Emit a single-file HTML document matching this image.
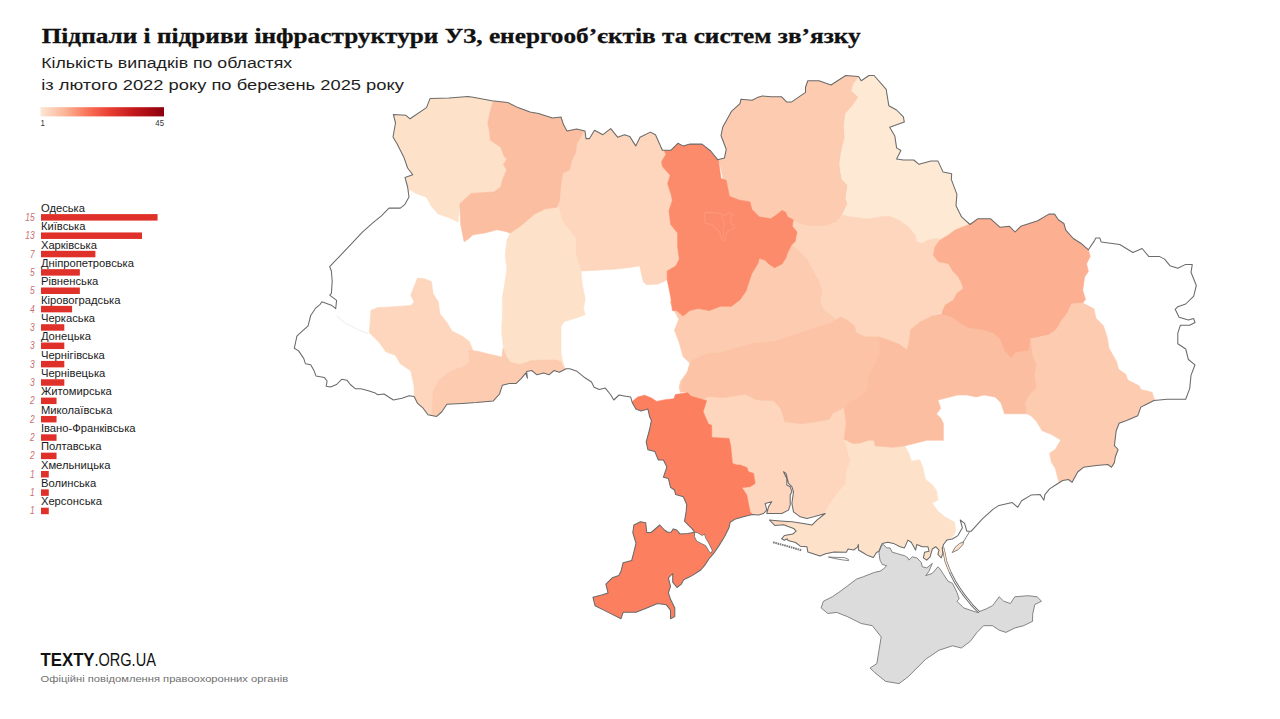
<!DOCTYPE html>
<html><head><meta charset="utf-8"><style>
html,body{margin:0;padding:0;background:#fff;}
body{width:1280px;height:719px;overflow:hidden;}
svg{display:block;}
.title{font-family:"Liberation Serif",serif;font-weight:bold;font-size:22px;fill:#111;stroke:#111;stroke-width:0.3px;}
.sub{font-family:"Liberation Sans",sans-serif;font-size:15.4px;fill:#1e1e1e;}
.lbl{font-family:"Liberation Sans",sans-serif;font-size:10.3px;fill:#1a1a1a;}
.num{font-family:"Liberation Sans",sans-serif;font-style:italic;font-size:10.5px;fill:#c87070;}
.leg{font-family:"Liberation Sans",sans-serif;font-size:9.2px;fill:#333;}
.logo{font-family:"Liberation Sans",sans-serif;font-size:18px;fill:#111;}
.src{font-family:"Liberation Sans",sans-serif;font-size:9.3px;fill:#707070;}
</style></head><body>
<svg width="1280" height="719" viewBox="0 0 1280 719">
<defs>
<clipPath id="ua"><polygon points="393.4,114.5 405.9,115.3 410,118.8 426.5,107.6 430,98.6 449,98.1 468,96.4 473,97.2 492,100.7 507.6,102.4 518,107.6 530,112 538.6,113.6 552.4,118 561,117 563.6,124.8 567,131 576.6,129 585,131 586,138.6 589.5,138.6 594.5,130.3 602.9,134.7 610.7,128.6 617.6,137.2 624.5,134.7 629.7,136.4 635.7,145.9 640,137.2 650.3,132.1 655.5,134.7 662.4,150.2 671,150.2 677.9,143.3 683.1,145.9 690,144.1 702,144.1 710.7,151 717.6,159.7 724.5,157.9 726.2,149.3 721,135.5 722.8,126.9 731.4,111.4 740,103.6 740.9,99.3 752.1,100.2 757.2,97.6 762.4,95.9 771,96.7 781.4,96.7 786.6,101.9 791.7,101.9 805.5,92.4 805.5,87.2 807.8,80.7 819,80.7 831,85 845.7,75.5 858.6,76.4 861.2,80.7 869,75.5 874.1,75.5 886.2,89.3 888.8,105.7 896.6,110 903.4,116.9 904.3,122.1 889.7,127.2 894.8,135.9 896.6,147.9 900.9,150.5 896.6,159.1 903.4,160 913.8,160 919,164.3 931,160.9 937.9,160.9 943.1,172.1 951.7,173.8 951.3,179.4 956.9,194.4 956,205.7 961.6,216.9 970,224.5 977.6,218.8 990.7,218.8 1000.1,227.3 1009.5,226.3 1015.1,232 1020.8,226.3 1037.7,220.7 1048.9,214.1 1054.6,214.1 1058.3,219.8 1063.9,223.5 1065.8,230.1 1073.3,238.5 1080.8,243.2 1088.4,249.8 1094.5,240.6 1095.9,237.9 1099.8,237.9 1101.1,241.9 1119.7,244.5 1132.9,252.5 1142.1,248.5 1148.7,256.4 1159.3,256.4 1164.6,259.1 1169.9,265.7 1177.8,268.3 1185.7,264.4 1192.3,264.4 1191,272.3 1196.3,285.5 1193.7,296.1 1185.7,304 1177.8,306.7 1175.2,309.3 1179.1,317.2 1188.4,319.9 1193.7,318.6 1195,322.5 1189.7,325.2 1180.4,325.2 1177.8,333.1 1177.8,343.7 1185.7,349 1188.4,359.5 1195,364.8 1191,375.4 1189.7,388.6 1185.7,399.2 1167.2,399.2 1154,400.5 1146.1,404.5 1140.8,407.1 1137.8,415.7 1126.6,420.4 1119.1,423.2 1116.2,430.7 1114.4,445.7 1118.1,449.5 1115.3,457 1114.4,462.6 1111.5,467.3 1107.8,464.5 1096.5,465.4 1083.4,467.3 1077.7,472 1072.1,482.3 1068.4,479.5 1062.7,480.5 1055.2,485.2 1049.6,488.9 1044.9,494.6 1043.9,500.2 1040.2,494.6 1031,495.1 1021.6,500.8 1017.8,507.3 1012.2,502.6 999.1,505.4 993.5,508.9 982.4,518.9 971.3,531.2 966.8,531.2 964.6,523.4 960.2,520 962.4,527.8 957.9,535.6 952.4,539 946.8,540.1 943.5,544.5 942.3,549 942.9,553.4 941.2,557.9 937.9,554.5 939,550.1 935.7,546.7 932.3,549 930.1,556.8 926.8,560.1 923.4,557.9 924.5,552.3 929,551.2 927.9,546.7 922.3,546.7 916.8,544.5 915.6,550.1 911.2,542.3 907.9,540.1 904.5,547.9 900.1,546.7 893.4,543.4 887.8,542.3 882.3,543.4 879.1,550.9 876.3,552.8 873.4,557.5 867.8,555.6 863.1,552.8 858.4,550 858.4,544.4 857.5,547.2 853.7,550 848.1,549.1 846.3,552.3 834.1,551.9 825.6,553.7 820,556.1 807.8,551.9 806.9,546.7 800.3,546.2 795.6,542.5 788.1,540.6 787.2,538.8 784.4,540.2 781.6,538.8 784.4,535.5 792.8,534.1 796.1,531.2 793.7,528.4 783.4,524.7 775,525.6 769.4,520 780.2,520.9 791.9,521.8 803.5,523.5 811.9,525.1 816.9,520.1 825.2,513.5 813.6,516.8 806.9,518.5 800.2,516.8 793.5,511.8 791.9,503.4 793.5,491.8 791.9,486.7 788.5,483.4 786,473.4 783.5,471.7 786.8,478.4 786.8,485.1 790.2,486.7 791.9,491.8 790.2,495.1 790.2,505.1 788.5,510.1 781.8,513.5 773.5,513.5 766.8,513.5 768.5,506.8 771.8,501.8 765.1,503.4 766.8,510.1 763.5,513.5 758.5,515.1 752.3,514.5 743.4,516.7 735.6,518.9 730.1,522.3 729,527.8 724.5,536.7 719,545.6 714.5,552.3 708.9,559 704.5,565.6 700.7,570 692.1,575.6 687.8,577.8 683.5,579.9 681.3,584.2 677,587.5 672.7,582.1 672.7,573.5 668.4,577.8 670.5,586.4 668.4,592.9 670.5,599.3 674.8,608 674.8,616.6 670.5,618.7 670.5,610.1 666.2,604.7 657.6,603.6 646.8,608 636,612.3 623.1,612.3 621,618.7 612.3,614.4 603.7,610.1 595.1,605.8 592.9,597.2 601.6,595 608,592.9 605.9,584.2 612.3,577.8 618.8,575.6 621,571.3 623.1,562.7 631.7,560.5 633.9,551.9 636,543.3 632.8,532.5 633.9,525 640.4,521.7 645.7,522.8 646.8,532.5 651.1,532.5 659.8,525 664.4,530 667.8,532.3 671.1,532.3 673.3,528.9 676.7,530 680,533.9 687.8,533.4 694.5,532.3 692.3,528.9 688.9,525.6 684.5,521.1 686.1,512.2 686.7,504.5 683.4,496.7 675.6,494.4 674.5,490 670.5,487.2 668.4,478.6 663.4,477.2 666.9,466.9 663.4,460 658.3,460 654.8,451.4 647.9,449.7 646.2,441.9 649.7,429 651.4,420.3 649.7,416.9 647.9,409.1 641,410.9 635.9,409.1 632.4,403.1 630.7,397.1 625.5,396.2 619,395 613.8,400 610.5,394.5 605.3,388.1 599.3,389.4 594.1,387.2 591.5,382 585,377.8 577,371.3 569.7,368.8 566.2,368.8 559.3,372.2 554.1,370.5 549,374.8 543.8,373.1 536.9,374.8 531.7,370.5 526.6,371.4 527.4,378.3 525.7,373.1 521.4,378.3 516.2,383.4 509.3,383.4 502.4,385.2 499.5,394 493.4,400.9 476.2,402.6 462.4,403.4 446.9,404.3 441.7,412 436.6,416.4 427.9,414.7 422.8,407.8 417.6,403.4 414.1,396.6 409,395.7 402,398.3 393.4,400 384,394 377.9,394.8 375.3,393.1 367.6,390.5 360.7,388.8 355.5,388.8 350.3,384.5 346.9,380.2 341.7,379.3 336.6,384.5 330.5,387.1 326.2,386.2 327.1,381 324.5,377.6 315.9,375.9 314.1,370.7 310.7,364.7 305.5,363.8 303.8,358.6 298.6,350.9 294.3,348.3 296.9,336.2 300.3,332.8 308.1,325.9 310.7,315.5 315.9,307.8 320.2,304.3 321.9,301.7 331.4,305.2 335.7,308.6 336.6,300.3 329.7,295.2 331.4,293.4 332.2,281.4 331.4,271 329.7,266.7 346.9,248.6 362.4,232.2 372.8,222.8 381.4,215.9 389,208.1 400.3,208.1 404.7,204.7 409,196.9 407.6,187 405,177.4 412.8,174.8 407.6,168 404,157.6 397,143.8 393,137 395.5,123"/></clipPath>
<linearGradient id="lg" x1="0" x2="1" y1="0" y2="0">
<stop offset="0" stop-color="#fde6d4"/>
<stop offset="0.2" stop-color="#fcb497"/>
<stop offset="0.4" stop-color="#f86c52"/>
<stop offset="0.55" stop-color="#ea4236"/>
<stop offset="0.75" stop-color="#c41a1c"/>
<stop offset="0.9" stop-color="#a50a12"/>
<stop offset="1" stop-color="#8a0010"/>
</linearGradient>
</defs>
<text x="41.7" y="42.8" class="title" id="title" textLength="819" lengthAdjust="spacingAndGlyphs">Підпали і підриви інфраструктури УЗ, енергооб’єктів та систем зв’язку</text>
<text x="41.2" y="67.9" class="sub" id="sub1" textLength="251" lengthAdjust="spacingAndGlyphs">Кількість випадків по областях</text>
<text x="41.2" y="89.6" class="sub" id="sub2" textLength="362.7" lengthAdjust="spacingAndGlyphs">із лютого 2022 року по березень 2025 року</text>
<rect x="40.5" y="107.2" width="123.5" height="9.2" fill="url(#lg)"/>
<text transform="translate(40.6,125.7) scale(0.85,1)" class="leg">1</text>
<text transform="translate(164,125.7) scale(0.85,1)" class="leg" text-anchor="end">45</text>
<rect x="41" y="214.10" width="116.55" height="6.5" fill="#e0302a"/><text transform="translate(40.9,211.80) scale(1.09,1)" class="lbl">Одеська</text><text transform="translate(34.7,220.80) scale(0.8,1)" class="num" text-anchor="end">15</text><rect x="41" y="232.45" width="101.01" height="6.5" fill="#e0302a"/><text transform="translate(40.9,230.15) scale(1.09,1)" class="lbl">Київська</text><text transform="translate(34.7,239.15) scale(0.8,1)" class="num" text-anchor="end">13</text><rect x="41" y="250.80" width="54.39" height="6.5" fill="#e0302a"/><text transform="translate(40.9,248.50) scale(1.09,1)" class="lbl">Харківська</text><text transform="translate(34.7,257.50) scale(0.8,1)" class="num" text-anchor="end">7</text><rect x="41" y="269.15" width="38.85" height="6.5" fill="#e0302a"/><text transform="translate(40.9,266.85) scale(1.09,1)" class="lbl">Дніпропетровська</text><text transform="translate(34.7,275.85) scale(0.8,1)" class="num" text-anchor="end">5</text><rect x="41" y="287.50" width="38.85" height="6.5" fill="#e0302a"/><text transform="translate(40.9,285.20) scale(1.09,1)" class="lbl">Рівненська</text><text transform="translate(34.7,294.20) scale(0.8,1)" class="num" text-anchor="end">5</text><rect x="41" y="305.85" width="31.08" height="6.5" fill="#e0302a"/><text transform="translate(40.9,303.55) scale(1.09,1)" class="lbl">Кіровоградська</text><text transform="translate(34.7,312.55) scale(0.8,1)" class="num" text-anchor="end">4</text><rect x="41" y="324.20" width="23.31" height="6.5" fill="#e0302a"/><text transform="translate(40.9,321.90) scale(1.09,1)" class="lbl">Черкаська</text><text transform="translate(34.7,330.90) scale(0.8,1)" class="num" text-anchor="end">3</text><rect x="41" y="342.55" width="23.31" height="6.5" fill="#e0302a"/><text transform="translate(40.9,340.25) scale(1.09,1)" class="lbl">Донецька</text><text transform="translate(34.7,349.25) scale(0.8,1)" class="num" text-anchor="end">3</text><rect x="41" y="360.90" width="23.31" height="6.5" fill="#e0302a"/><text transform="translate(40.9,358.60) scale(1.09,1)" class="lbl">Чернігівська</text><text transform="translate(34.7,367.60) scale(0.8,1)" class="num" text-anchor="end">3</text><rect x="41" y="379.25" width="23.31" height="6.5" fill="#e0302a"/><text transform="translate(40.9,376.95) scale(1.09,1)" class="lbl">Чернівецька</text><text transform="translate(34.7,385.95) scale(0.8,1)" class="num" text-anchor="end">3</text><rect x="41" y="397.60" width="15.54" height="6.5" fill="#e0302a"/><text transform="translate(40.9,395.30) scale(1.09,1)" class="lbl">Житомирська</text><text transform="translate(34.7,404.30) scale(0.8,1)" class="num" text-anchor="end">2</text><rect x="41" y="415.95" width="15.54" height="6.5" fill="#e0302a"/><text transform="translate(40.9,413.65) scale(1.09,1)" class="lbl">Миколаївська</text><text transform="translate(34.7,422.65) scale(0.8,1)" class="num" text-anchor="end">2</text><rect x="41" y="434.30" width="15.54" height="6.5" fill="#e0302a"/><text transform="translate(40.9,432.00) scale(1.09,1)" class="lbl">Івано-Франківська</text><text transform="translate(34.7,441.00) scale(0.8,1)" class="num" text-anchor="end">2</text><rect x="41" y="452.65" width="15.54" height="6.5" fill="#e0302a"/><text transform="translate(40.9,450.35) scale(1.09,1)" class="lbl">Полтавська</text><text transform="translate(34.7,459.35) scale(0.8,1)" class="num" text-anchor="end">2</text><rect x="41" y="471.00" width="7.77" height="6.5" fill="#e0302a"/><text transform="translate(40.9,468.70) scale(1.09,1)" class="lbl">Хмельницька</text><text transform="translate(34.7,477.70) scale(0.8,1)" class="num" text-anchor="end">1</text><rect x="41" y="489.35" width="7.77" height="6.5" fill="#e0302a"/><text transform="translate(40.9,487.05) scale(1.09,1)" class="lbl">Волинська</text><text transform="translate(34.7,496.05) scale(0.8,1)" class="num" text-anchor="end">1</text><rect x="41" y="507.70" width="7.77" height="6.5" fill="#e0302a"/><text transform="translate(40.9,505.40) scale(1.09,1)" class="lbl">Херсонська</text><text transform="translate(34.7,514.40) scale(0.8,1)" class="num" text-anchor="end">1</text>
<g clip-path="url(#ua)">
<polygon points="393.4,114.5 405.9,115.3 410,118.8 426.5,107.6 430,98.6 449,98.1 468,96.4 473,97.2 492,100.7 507.6,102.4 518,107.6 530,112 538.6,113.6 552.4,118 561,117 563.6,124.8 567,131 576.6,129 585,131 586,138.6 589.5,138.6 594.5,130.3 602.9,134.7 610.7,128.6 617.6,137.2 624.5,134.7 629.7,136.4 635.7,145.9 640,137.2 650.3,132.1 655.5,134.7 662.4,150.2 671,150.2 677.9,143.3 683.1,145.9 690,144.1 702,144.1 710.7,151 717.6,159.7 724.5,157.9 726.2,149.3 721,135.5 722.8,126.9 731.4,111.4 740,103.6 740.9,99.3 752.1,100.2 757.2,97.6 762.4,95.9 771,96.7 781.4,96.7 786.6,101.9 791.7,101.9 805.5,92.4 805.5,87.2 807.8,80.7 819,80.7 831,85 845.7,75.5 858.6,76.4 861.2,80.7 869,75.5 874.1,75.5 886.2,89.3 888.8,105.7 896.6,110 903.4,116.9 904.3,122.1 889.7,127.2 894.8,135.9 896.6,147.9 900.9,150.5 896.6,159.1 903.4,160 913.8,160 919,164.3 931,160.9 937.9,160.9 943.1,172.1 951.7,173.8 951.3,179.4 956.9,194.4 956,205.7 961.6,216.9 970,224.5 977.6,218.8 990.7,218.8 1000.1,227.3 1009.5,226.3 1015.1,232 1020.8,226.3 1037.7,220.7 1048.9,214.1 1054.6,214.1 1058.3,219.8 1063.9,223.5 1065.8,230.1 1073.3,238.5 1080.8,243.2 1088.4,249.8 1094.5,240.6 1095.9,237.9 1099.8,237.9 1101.1,241.9 1119.7,244.5 1132.9,252.5 1142.1,248.5 1148.7,256.4 1159.3,256.4 1164.6,259.1 1169.9,265.7 1177.8,268.3 1185.7,264.4 1192.3,264.4 1191,272.3 1196.3,285.5 1193.7,296.1 1185.7,304 1177.8,306.7 1175.2,309.3 1179.1,317.2 1188.4,319.9 1193.7,318.6 1195,322.5 1189.7,325.2 1180.4,325.2 1177.8,333.1 1177.8,343.7 1185.7,349 1188.4,359.5 1195,364.8 1191,375.4 1189.7,388.6 1185.7,399.2 1167.2,399.2 1154,400.5 1146.1,404.5 1140.8,407.1 1137.8,415.7 1126.6,420.4 1119.1,423.2 1116.2,430.7 1114.4,445.7 1118.1,449.5 1115.3,457 1114.4,462.6 1111.5,467.3 1107.8,464.5 1096.5,465.4 1083.4,467.3 1077.7,472 1072.1,482.3 1068.4,479.5 1062.7,480.5 1055.2,485.2 1049.6,488.9 1044.9,494.6 1043.9,500.2 1040.2,494.6 1031,495.1 1021.6,500.8 1017.8,507.3 1012.2,502.6 999.1,505.4 993.5,508.9 982.4,518.9 971.3,531.2 966.8,531.2 964.6,523.4 960.2,520 962.4,527.8 957.9,535.6 952.4,539 946.8,540.1 943.5,544.5 942.3,549 942.9,553.4 941.2,557.9 937.9,554.5 939,550.1 935.7,546.7 932.3,549 930.1,556.8 926.8,560.1 923.4,557.9 924.5,552.3 929,551.2 927.9,546.7 922.3,546.7 916.8,544.5 915.6,550.1 911.2,542.3 907.9,540.1 904.5,547.9 900.1,546.7 893.4,543.4 887.8,542.3 882.3,543.4 879.1,550.9 876.3,552.8 873.4,557.5 867.8,555.6 863.1,552.8 858.4,550 858.4,544.4 857.5,547.2 853.7,550 848.1,549.1 846.3,552.3 834.1,551.9 825.6,553.7 820,556.1 807.8,551.9 806.9,546.7 800.3,546.2 795.6,542.5 788.1,540.6 787.2,538.8 784.4,540.2 781.6,538.8 784.4,535.5 792.8,534.1 796.1,531.2 793.7,528.4 783.4,524.7 775,525.6 769.4,520 780.2,520.9 791.9,521.8 803.5,523.5 811.9,525.1 816.9,520.1 825.2,513.5 813.6,516.8 806.9,518.5 800.2,516.8 793.5,511.8 791.9,503.4 793.5,491.8 791.9,486.7 788.5,483.4 786,473.4 783.5,471.7 786.8,478.4 786.8,485.1 790.2,486.7 791.9,491.8 790.2,495.1 790.2,505.1 788.5,510.1 781.8,513.5 773.5,513.5 766.8,513.5 768.5,506.8 771.8,501.8 765.1,503.4 766.8,510.1 763.5,513.5 758.5,515.1 752.3,514.5 743.4,516.7 735.6,518.9 730.1,522.3 729,527.8 724.5,536.7 719,545.6 714.5,552.3 708.9,559 704.5,565.6 700.7,570 692.1,575.6 687.8,577.8 683.5,579.9 681.3,584.2 677,587.5 672.7,582.1 672.7,573.5 668.4,577.8 670.5,586.4 668.4,592.9 670.5,599.3 674.8,608 674.8,616.6 670.5,618.7 670.5,610.1 666.2,604.7 657.6,603.6 646.8,608 636,612.3 623.1,612.3 621,618.7 612.3,614.4 603.7,610.1 595.1,605.8 592.9,597.2 601.6,595 608,592.9 605.9,584.2 612.3,577.8 618.8,575.6 621,571.3 623.1,562.7 631.7,560.5 633.9,551.9 636,543.3 632.8,532.5 633.9,525 640.4,521.7 645.7,522.8 646.8,532.5 651.1,532.5 659.8,525 664.4,530 667.8,532.3 671.1,532.3 673.3,528.9 676.7,530 680,533.9 687.8,533.4 694.5,532.3 692.3,528.9 688.9,525.6 684.5,521.1 686.1,512.2 686.7,504.5 683.4,496.7 675.6,494.4 674.5,490 670.5,487.2 668.4,478.6 663.4,477.2 666.9,466.9 663.4,460 658.3,460 654.8,451.4 647.9,449.7 646.2,441.9 649.7,429 651.4,420.3 649.7,416.9 647.9,409.1 641,410.9 635.9,409.1 632.4,403.1 630.7,397.1 625.5,396.2 619,395 613.8,400 610.5,394.5 605.3,388.1 599.3,389.4 594.1,387.2 591.5,382 585,377.8 577,371.3 569.7,368.8 566.2,368.8 559.3,372.2 554.1,370.5 549,374.8 543.8,373.1 536.9,374.8 531.7,370.5 526.6,371.4 527.4,378.3 525.7,373.1 521.4,378.3 516.2,383.4 509.3,383.4 502.4,385.2 499.5,394 493.4,400.9 476.2,402.6 462.4,403.4 446.9,404.3 441.7,412 436.6,416.4 427.9,414.7 422.8,407.8 417.6,403.4 414.1,396.6 409,395.7 402,398.3 393.4,400 384,394 377.9,394.8 375.3,393.1 367.6,390.5 360.7,388.8 355.5,388.8 350.3,384.5 346.9,380.2 341.7,379.3 336.6,384.5 330.5,387.1 326.2,386.2 327.1,381 324.5,377.6 315.9,375.9 314.1,370.7 310.7,364.7 305.5,363.8 303.8,358.6 298.6,350.9 294.3,348.3 296.9,336.2 300.3,332.8 308.1,325.9 310.7,315.5 315.9,307.8 320.2,304.3 321.9,301.7 331.4,305.2 335.7,308.6 336.6,300.3 329.7,295.2 331.4,293.4 332.2,281.4 331.4,271 329.7,266.7 346.9,248.6 362.4,232.2 372.8,222.8 381.4,215.9 389,208.1 400.3,208.1 404.7,204.7 409,196.9 407.6,187 405,177.4 412.8,174.8 407.6,168 404,157.6 397,143.8 393,137 395.5,123" fill="#fff"/>
<polygon points="580,110 665,110 664.1,150.2 665.9,154.5 661.6,161.4 662.4,166.6 670.2,175.2 667.6,183.8 671,194 672.4,200.3 669,210.7 670.7,224.5 677.6,233.1 677.6,246.9 679.3,259 675.9,265.9 667.2,271 667.2,279.7 658.6,284 646.6,284.8 643.1,281.4 639.7,265.9 629.3,267.6 613.8,269.3 596.6,270.2 581,271 570,250 560,215 555,200 560,170 575,140 585,125" fill="#fdd6bd" stroke="#fdd6bd" stroke-width="0.6"/><polygon points="380,90 495,90 493,101.5 490.3,111 487.8,123 489.5,131.7 490.3,140.3 500.7,147.2 504,156 506.7,159.3 503.3,164.5 506.7,169.7 502.4,180 500.7,187 493.8,192 484.8,192.6 471,193.4 459.8,203.8 458.1,221.9 448.6,217.6 438.3,214.1 431.4,206.4 426.2,196.9 415.9,193.4 410.7,190 380,205" fill="#fde1c9" stroke="#fde1c9" stroke-width="0.6"/><polygon points="417.6,277.9 424.5,278.8 431.4,281.4 433.1,293.4 438.3,302 440,313.8 446.9,322.4 452,331 462.4,336.2 469.3,341.4 472.8,350 470,365 445,378 433,395 430,425 400,425 414.1,396.6 414.1,386.2 410.7,370.7 400.3,363.8 395.2,355.2 385.7,351.7 379.7,343.1 369.3,332.8 371,310.3 377.9,307.5 386.6,307.2 410.7,305.5 414.1,302 410.7,295.2 414.1,286.6" fill="#fdd6bd" stroke="#fdd6bd" stroke-width="0.6"/><polygon points="431.4,415.5 433.1,391.4 440,379.3 452,370.7 462.4,367.2 469.3,362 469.3,350 479.7,351.7 488.6,354.1 497.2,355.9 502,357 503,348 558,348 561,358 562.8,362.8 564.5,367.9 568,371 500,430 430,430" fill="#fccbb0" stroke="#fccbb0" stroke-width="0.6"/><polygon points="505,228 520,220 545,205 558.6,207.2 562,221 569,229.7 575.9,238.3 575.9,255.5 581,269.3 581.7,280 583.4,290.3 585.2,299 583.4,309.3 585.2,314.5 576.6,317.9 564.5,321.4 561,326.6 561,336.9 561,352.4 562.8,362.8 564.5,367.9 561,361 555.9,359.3 531.7,360 520,364 511,362 507,357 503.5,348 501.6,331.7 502.4,314.5 502.4,297.2 504.3,286.6 506.9,269.3 505.2,255.5 506.9,240 510.3,233.1" fill="#fde1c9" stroke="#fde1c9" stroke-width="0.6"/><polygon points="490,90 590,90 584.3,130 580,138.6 576.6,143.8 575.7,152.4 571.4,161 569.7,169.7 562.8,173 561,183.4 560.3,190 559.5,200.3 556.9,207.2 544.8,209 534.5,214.1 522.4,224.5 510.3,233.1 505.5,231.4 496.9,229.7 484.8,233.1 472.8,234.8 469.3,238.3 464.1,241.7 460.7,224.5 459.8,203.8 471,193.4 484.8,192.6 493.8,192 500.7,187 502.4,180 506.7,169.7 503.3,164.5 506.7,159.3 504,156 500.7,147.2 490.3,140.3 489.5,131.7 487.8,123 490.3,111 493,101.5" fill="#fcbea1" stroke="#fcbea1" stroke-width="0.6"/><polygon points="715,70 860,70 859.5,76.4 853.4,84.1 851.7,91 858.6,97.1 853.4,104.8 845.7,113.4 844,125.5 844.8,137.6 841.4,151.4 839.7,163.4 840.2,170 842.1,179.4 847.7,185 845.8,198.2 847.7,203.8 842.1,215.1 836.4,222.6 825.2,226.3 810.1,226.3 800.8,224.5 793.2,220.7 785,235 750,230 730,210 720,165 715,150" fill="#fccbb0" stroke="#fccbb0" stroke-width="0.6"/><polygon points="859.5,70 960,70 975,222 970,224.5 963.4,226.7 955.1,230 948.4,235 940.1,240 936.7,238.4 928.4,240 921.7,243.4 916.7,241.7 915,235 908.3,226.7 900.3,220.7 889,216 879.6,216.9 866.5,218.8 851.5,216.9 842.1,215.1 847.7,203.8 845.8,198.2 847.7,185 842.1,179.4 840.2,170 839.7,163.4 841.4,151.4 844.8,137.6 844,125.5 845.7,113.4 853.4,104.8 858.6,97.1 851.7,91 853.4,84.1 859.5,76.4" fill="#feead4" stroke="#feead4" stroke-width="0.6"/><polygon points="793.2,220.7 800.8,224.5 810.1,226.3 825.2,226.3 836.4,222.6 842.1,215.1 851.5,216.9 866.5,218.8 879.6,216.9 889,216 900.3,220.7 908.3,226.7 915,235 916.7,241.7 921.7,243.4 928.4,240 936.7,238.4 940.1,240 960,240 965,300 942,312 931.5,316.3 920.2,321.9 910.8,329.4 908.9,342.6 907,350.1 880,350 850,340 820,330 800,300 790,250 780,225" fill="#fdd6bd" stroke="#fdd6bd" stroke-width="0.6"/><polygon points="670,301.9 678.8,319.4 674.4,330.3 678.8,341.3 683.1,356.6 689.7,363.1 687.5,371.9 680.9,380.6 679,387.6 680.7,392.8 700,380 760,345 840,325 831.9,316.3 824.4,310.7 820,303 822,290 817.7,278.9 812,269.5 806.4,258.3 798.9,250.8 791.4,245.1 780,238 760,245 740,260 700,290" fill="#fccbb0" stroke="#fccbb0" stroke-width="0.6"/><polygon points="664,140 718,140 718.4,160.5 719.3,166.6 721,178.6 726.2,180.3 727.5,186.9 729.4,196.3 738.8,200 750,201.9 751.9,209.4 759.4,216.9 770.7,218.8 776.3,215.1 782,210.4 785.7,212.3 787.6,216.9 793.2,219.8 792.3,226.3 797,232 795.1,241.4 791.4,245.1 787.6,252.6 785.7,258.3 782,263.9 774.5,267.7 768.8,263.9 765.1,260.1 759.4,258.3 757.6,263.9 751.9,273.3 748.5,283 746,291 740,299.7 731.3,306.3 720.3,306.3 709.4,310.6 698.4,308.4 689.7,310.6 683.1,316.1 676.6,310.6 672.4,310.7 670.7,296.9 667.2,279.7 667.2,271 675.9,265.9 679.3,259 677.6,246.9 677.6,233.1 670.7,224.5 669,210.7 672.4,200.3 671,194 667.6,183.8 670.2,175.2 662.4,166.6 661.6,161.4 665.9,154.5 664.1,150.2" fill="#fc8b6b" stroke="#fc8b6b" stroke-width="0.6"/><polygon points="690,390 846,395 846,445.6 850.6,460.9 846.3,471.9 846.3,482.8 837.5,493.8 831,502.5 824.4,513.5 800,540 740,530 690,480" fill="#fdd6bd" stroke="#fdd6bd" stroke-width="0.6"/><polygon points="680.9,391.6 683.1,380.6 687.5,371.9 691.9,360.9 705,354.4 722.5,352.2 737,348 753.1,343.4 775,341.3 796.9,334.7 807.8,330.3 829.7,323.8 840.6,317.2 846.9,320 854.5,325.7 856.3,333.2 865.7,337 878.9,337 880,345 878.9,355.7 873.2,367 867.6,378.3 868,385 866,390.9 858,398 850.6,401 846.3,406.3 841.9,408.4 833.1,412.8 828.8,419.4 815.6,421.6 802.5,423.8 785,421.6 780.6,408.4 774.1,400.8 756.6,399.7 745.6,394.2 723.8,397.5 708.4,396.4 701.9,399.7 691,396.2 687.6,392.8" fill="#fcc3a6" stroke="#fcc3a6" stroke-width="0.6"/><polygon points="844,440 860,443.1 868.3,440.3 873.9,440.3 875.3,445.9 893.4,447.3 904.5,445.9 908.7,452.9 911.5,461.2 919.8,459.8 922.6,466.8 925.4,479.3 932.3,484.8 936.5,490.4 937.9,500 932.3,503.3 937.9,511.1 944.6,516.7 954.6,522.3 955.7,531.2 951.3,539 946.8,540.1 943.5,542.3 942,560 800,570 780,545 790,520 824.4,513.5 831,502.5 837.5,493.8 846.3,482.8 846.3,471.9 850.6,460.9 846.3,445.6" fill="#fde1c9" stroke="#fde1c9" stroke-width="0.6"/><polygon points="846.3,406.3 850.6,401 858,398 866,390.9 868,385 867.6,378.3 873.2,367 878.9,355.7 880,345 878.9,337 890.1,340.7 899.5,344.5 907,350.1 908.9,342.6 910.8,329.4 920.2,321.9 931.5,316.3 941.7,313.5 950,305 980,310 1035,328 1042,345 1042,395 1030,408 1027,413.8 1004.5,413.8 1000.8,402.5 995.1,396.9 983.8,395 976.3,396.9 966.9,395 957.6,395 937.9,400 940.7,408.3 936.5,413.9 940.7,418.1 943.4,423.6 943.4,440.3 926.8,440.3 904.5,445.9 893.4,447.3 875.3,445.9 873.9,440.3 868.3,440.3 860,443.1 852.8,443.4 844.1,439.1 846.3,423.8 844.1,408.4" fill="#fcbea1" stroke="#fcbea1" stroke-width="0.6"/><polygon points="970,215 1090,215 1088.4,249.8 1090.2,256.4 1086.5,263.9 1088.4,271.4 1084.6,277 1082.7,290.2 1085.5,299.4 1082.7,303.1 1071.5,304.1 1067.7,312.5 1062.1,320 1056.4,329.4 1048.9,335.1 1030.1,338.8 1028.3,350.1 1015.1,352 1011.4,357.6 1005.7,352 1000.1,338.8 994.5,333.2 983.2,329.4 968.2,327.6 958.8,321.9 951.3,316.3 943.8,314.4 941.7,313.5 945.1,305.2 953.4,300.2 956.8,293.5 963.4,288.5 961.8,283.5 958.4,276.8 953.4,271.8 948.4,263.4 938.4,261.8 933.4,255.1 935.1,246.7 940.1,240 948.4,235 955.1,230 963.4,226.7 971.8,223.4" fill="#fcaf91" stroke="#fcaf91" stroke-width="0.6"/><polygon points="1030.1,338.8 1048.9,335.1 1056.4,329.4 1062.1,320 1067.7,312.5 1071.5,304.1 1082.7,303.1 1094,308.8 1095.9,318.2 1103.4,325.7 1107.1,337 1109,348.2 1116.5,361.4 1118.4,368.9 1125.9,374.5 1127.8,380.1 1139.1,385.8 1140.9,389.5 1152.2,392.3 1154.1,398.9 1170,410 1130,480 1065,500 1059,482.3 1055.2,468.3 1051.5,462.6 1049.6,453.2 1055.2,449.5 1060.8,440.1 1051.5,434.5 1042.1,430.7 1036.4,421.3 1030.8,415.7 1027.2,413.9 1025.4,402.7 1029.1,395.2 1036.6,387.7 1034.7,374.5 1036.6,365.1 1032.9,355.7 1031,340.7" fill="#fccbb0" stroke="#fccbb0" stroke-width="0.6"/><polygon points="632.4,401.4 637.6,397.1 644.5,395.3 651.4,397.9 656.6,401.4 665.2,399.7 673.8,398.8 675.5,394.5 687.6,392.8 691,396.2 703.1,399.7 706.6,400.5 703.1,411.7 708.3,423.8 711.7,425.5 711.7,437.6 729,438.4 730.7,446.2 732.4,463.4 736.8,465 740.1,465 746.8,467.5 748.4,471.7 753.5,473.4 755.1,483.4 750.1,486.7 741.8,487.6 746.8,495.1 748.4,503.4 750.1,511.8 752,514 760,530 700,640 580,620 580,500 620,395" fill="#fc7f5f" stroke="#fc7f5f" stroke-width="0.6"/>
</g>
<polyline points="336.6,315.5 341,320 346.9,324.1 356,328.5 367.6,333.6" fill="none" stroke="#f1f1f1" stroke-width="1.2"/>
<polygon points="705,212.2 712,212.6 719.5,213.3 723.4,215.6 727.8,213.9 729.5,212.2 731.2,213.3 733.4,215 731.2,216.1 730.6,220.6 731.2,223.9 733.9,225.6 734.5,228.4 731.2,229.5 727.8,231.1 726.7,232.8 726.1,236.2 725.6,239.5 723.4,240.6 721.1,238.4 720.6,233.9 718.9,231.1 714.5,227.3 712.2,224.5 707.2,223.4 705,222.8 704.5,216.1" fill="none" stroke="#fd987a" stroke-width="1.1"/>
<polyline points="721.5,216.5 724,222 723.5,230 723.2,238" fill="none" stroke="#fd9878" stroke-width="0.8"/>
<polygon points="694.5,532.3 697.8,532.8 702.3,535.6 704.5,533.9 705.6,537.8 708.9,543.4 712.3,550.1 711.2,553.4 708.9,551.2 705.6,545.6 701.2,543.4 696.7,541.2 694.5,536.7" fill="#fff" stroke="#6a6a6a" stroke-width="0.8"/>
<polygon points="881.2,545.6 883.4,544.5 886.7,547.9 890,547.9 892.3,552.3 896.7,553.4 900.1,554.5 904.5,555.6 907.9,557.9 909,560.1 912.3,556.8 916.8,557.9 921.2,562.3 922.3,566.8 926.8,567.9 932.3,563.4 929,571.2 925.7,575.7 932.3,573.4 937.9,566.8 940.1,569 943.6,574.5 948,581.2 952.5,583.4 956.9,592.3 959.2,599 956.9,601.2 963.6,607.9 977,612.4 985.9,609 992.5,605.7 999.2,596.8 1003.7,601.2 1010.4,603.5 1014.8,596.8 1028.2,595.7 1037.1,596.8 1041.5,601.2 1034.8,604.6 1032.6,614.6 1032.6,621.3 1023.7,625.7 1014.8,628 1005.9,632.4 999.2,630.2 992.5,625.7 983.6,625.7 977,632.4 970.3,641.3 961.4,648 952.5,645.8 939.1,650.2 925.8,659.1 916.9,668 908,676.9 899,683.6 885.7,681.4 874.6,672.5 870.1,668 876.8,663.6 879,650.2 881.2,636.9 872.3,625.7 861.2,623.5 847.8,616.8 836.7,612.4 827.8,613.5 821.1,607.9 823.4,601.2 832.3,596.8 838.9,592.3 847.8,585.7 856.7,579 863.4,576.7 874.6,572.3 880,571.2 883.4,569 886.7,565.7 882.3,564.5 880,560.1 878.9,552.3" fill="#dcdcdc" stroke="#6a6a6a" stroke-width="0.8"/>
<polyline points="942.9,547.5 944.2,553 945.8,561.2 948,567 950.2,572.3 954.7,581.2 959,588 963.6,594.6 968,600 972.5,605.7 979.2,612.4" fill="none" stroke="#6a6a6a" stroke-width="2.6" stroke-linejoin="round"/>
<polyline points="942.9,547.5 944.2,553 945.8,561.2 948,567 950.2,572.3" fill="none" stroke="#fde1c9" stroke-width="1.4" stroke-linejoin="round"/>
<polyline points="950.2,572.3 954.7,581.2 959,588 963.6,594.6 968,600 972.5,605.7 979.2,612.4" fill="none" stroke="#fff" stroke-width="0.9" stroke-linejoin="round"/>
<polygon points="952.2,552.6 955,547.5 959.5,543.5 963.5,541.8 962.8,544.8 958,549.8" fill="#fde1c9" stroke="#6a6a6a" stroke-width="0.8"/>
<polyline points="963,542.5 966,537.5 969.5,531.8" fill="none" stroke="#6a6a6a" stroke-width="0.9"/>
<polyline points="773.1,542.3 785,545.5 801.2,550.2" fill="none" stroke="#7a7a7a" stroke-width="2" stroke-dasharray="1.6 0.7"/>
<polygon points="828.4,557 836,557.4 844.4,557.6 848.4,559.3 848.6,560.6 842.5,559.9 835,558.6" fill="#fff" stroke="#6a6a6a" stroke-width="0.8"/>
<polygon points="393.4,114.5 405.9,115.3 410,118.8 426.5,107.6 430,98.6 449,98.1 468,96.4 473,97.2 492,100.7 507.6,102.4 518,107.6 530,112 538.6,113.6 552.4,118 561,117 563.6,124.8 567,131 576.6,129 585,131 586,138.6 589.5,138.6 594.5,130.3 602.9,134.7 610.7,128.6 617.6,137.2 624.5,134.7 629.7,136.4 635.7,145.9 640,137.2 650.3,132.1 655.5,134.7 662.4,150.2 671,150.2 677.9,143.3 683.1,145.9 690,144.1 702,144.1 710.7,151 717.6,159.7 724.5,157.9 726.2,149.3 721,135.5 722.8,126.9 731.4,111.4 740,103.6 740.9,99.3 752.1,100.2 757.2,97.6 762.4,95.9 771,96.7 781.4,96.7 786.6,101.9 791.7,101.9 805.5,92.4 805.5,87.2 807.8,80.7 819,80.7 831,85 845.7,75.5 858.6,76.4 861.2,80.7 869,75.5 874.1,75.5 886.2,89.3 888.8,105.7 896.6,110 903.4,116.9 904.3,122.1 889.7,127.2 894.8,135.9 896.6,147.9 900.9,150.5 896.6,159.1 903.4,160 913.8,160 919,164.3 931,160.9 937.9,160.9 943.1,172.1 951.7,173.8 951.3,179.4 956.9,194.4 956,205.7 961.6,216.9 970,224.5 977.6,218.8 990.7,218.8 1000.1,227.3 1009.5,226.3 1015.1,232 1020.8,226.3 1037.7,220.7 1048.9,214.1 1054.6,214.1 1058.3,219.8 1063.9,223.5 1065.8,230.1 1073.3,238.5 1080.8,243.2 1088.4,249.8 1094.5,240.6 1095.9,237.9 1099.8,237.9 1101.1,241.9 1119.7,244.5 1132.9,252.5 1142.1,248.5 1148.7,256.4 1159.3,256.4 1164.6,259.1 1169.9,265.7 1177.8,268.3 1185.7,264.4 1192.3,264.4 1191,272.3 1196.3,285.5 1193.7,296.1 1185.7,304 1177.8,306.7 1175.2,309.3 1179.1,317.2 1188.4,319.9 1193.7,318.6 1195,322.5 1189.7,325.2 1180.4,325.2 1177.8,333.1 1177.8,343.7 1185.7,349 1188.4,359.5 1195,364.8 1191,375.4 1189.7,388.6 1185.7,399.2 1167.2,399.2 1154,400.5 1146.1,404.5 1140.8,407.1 1137.8,415.7 1126.6,420.4 1119.1,423.2 1116.2,430.7 1114.4,445.7 1118.1,449.5 1115.3,457 1114.4,462.6 1111.5,467.3 1107.8,464.5 1096.5,465.4 1083.4,467.3 1077.7,472 1072.1,482.3 1068.4,479.5 1062.7,480.5 1055.2,485.2 1049.6,488.9 1044.9,494.6 1043.9,500.2 1040.2,494.6 1031,495.1 1021.6,500.8 1017.8,507.3 1012.2,502.6 999.1,505.4 993.5,508.9 982.4,518.9 971.3,531.2 966.8,531.2 964.6,523.4 960.2,520 962.4,527.8 957.9,535.6 952.4,539 946.8,540.1 943.5,544.5 942.3,549 942.9,553.4 941.2,557.9 937.9,554.5 939,550.1 935.7,546.7 932.3,549 930.1,556.8 926.8,560.1 923.4,557.9 924.5,552.3 929,551.2 927.9,546.7 922.3,546.7 916.8,544.5 915.6,550.1 911.2,542.3 907.9,540.1 904.5,547.9 900.1,546.7 893.4,543.4 887.8,542.3 882.3,543.4 879.1,550.9 876.3,552.8 873.4,557.5 867.8,555.6 863.1,552.8 858.4,550 858.4,544.4 857.5,547.2 853.7,550 848.1,549.1 846.3,552.3 834.1,551.9 825.6,553.7 820,556.1 807.8,551.9 806.9,546.7 800.3,546.2 795.6,542.5 788.1,540.6 787.2,538.8 784.4,540.2 781.6,538.8 784.4,535.5 792.8,534.1 796.1,531.2 793.7,528.4 783.4,524.7 775,525.6 769.4,520 780.2,520.9 791.9,521.8 803.5,523.5 811.9,525.1 816.9,520.1 825.2,513.5 813.6,516.8 806.9,518.5 800.2,516.8 793.5,511.8 791.9,503.4 793.5,491.8 791.9,486.7 788.5,483.4 786,473.4 783.5,471.7 786.8,478.4 786.8,485.1 790.2,486.7 791.9,491.8 790.2,495.1 790.2,505.1 788.5,510.1 781.8,513.5 773.5,513.5 766.8,513.5 768.5,506.8 771.8,501.8 765.1,503.4 766.8,510.1 763.5,513.5 758.5,515.1 752.3,514.5 743.4,516.7 735.6,518.9 730.1,522.3 729,527.8 724.5,536.7 719,545.6 714.5,552.3 708.9,559 704.5,565.6 700.7,570 692.1,575.6 687.8,577.8 683.5,579.9 681.3,584.2 677,587.5 672.7,582.1 672.7,573.5 668.4,577.8 670.5,586.4 668.4,592.9 670.5,599.3 674.8,608 674.8,616.6 670.5,618.7 670.5,610.1 666.2,604.7 657.6,603.6 646.8,608 636,612.3 623.1,612.3 621,618.7 612.3,614.4 603.7,610.1 595.1,605.8 592.9,597.2 601.6,595 608,592.9 605.9,584.2 612.3,577.8 618.8,575.6 621,571.3 623.1,562.7 631.7,560.5 633.9,551.9 636,543.3 632.8,532.5 633.9,525 640.4,521.7 645.7,522.8 646.8,532.5 651.1,532.5 659.8,525 664.4,530 667.8,532.3 671.1,532.3 673.3,528.9 676.7,530 680,533.9 687.8,533.4 694.5,532.3 692.3,528.9 688.9,525.6 684.5,521.1 686.1,512.2 686.7,504.5 683.4,496.7 675.6,494.4 674.5,490 670.5,487.2 668.4,478.6 663.4,477.2 666.9,466.9 663.4,460 658.3,460 654.8,451.4 647.9,449.7 646.2,441.9 649.7,429 651.4,420.3 649.7,416.9 647.9,409.1 641,410.9 635.9,409.1 632.4,403.1 630.7,397.1 625.5,396.2 619,395 613.8,400 610.5,394.5 605.3,388.1 599.3,389.4 594.1,387.2 591.5,382 585,377.8 577,371.3 569.7,368.8 566.2,368.8 559.3,372.2 554.1,370.5 549,374.8 543.8,373.1 536.9,374.8 531.7,370.5 526.6,371.4 527.4,378.3 525.7,373.1 521.4,378.3 516.2,383.4 509.3,383.4 502.4,385.2 499.5,394 493.4,400.9 476.2,402.6 462.4,403.4 446.9,404.3 441.7,412 436.6,416.4 427.9,414.7 422.8,407.8 417.6,403.4 414.1,396.6 409,395.7 402,398.3 393.4,400 384,394 377.9,394.8 375.3,393.1 367.6,390.5 360.7,388.8 355.5,388.8 350.3,384.5 346.9,380.2 341.7,379.3 336.6,384.5 330.5,387.1 326.2,386.2 327.1,381 324.5,377.6 315.9,375.9 314.1,370.7 310.7,364.7 305.5,363.8 303.8,358.6 298.6,350.9 294.3,348.3 296.9,336.2 300.3,332.8 308.1,325.9 310.7,315.5 315.9,307.8 320.2,304.3 321.9,301.7 331.4,305.2 335.7,308.6 336.6,300.3 329.7,295.2 331.4,293.4 332.2,281.4 331.4,271 329.7,266.7 346.9,248.6 362.4,232.2 372.8,222.8 381.4,215.9 389,208.1 400.3,208.1 404.7,204.7 409,196.9 407.6,187 405,177.4 412.8,174.8 407.6,168 404,157.6 397,143.8 393,137 395.5,123" fill="none" stroke="#6a6a6a" stroke-width="1.05" stroke-linejoin="round"/>
<text transform="translate(40.6,665.8) scale(0.93,1)" class="logo" font-weight="bold">TEXTY</text>
<text transform="translate(94.4,665.8) scale(0.81,1)" class="logo">.ORG.UA</text>
<text x="40.6" y="681.6" class="src" id="src" textLength="247.5" lengthAdjust="spacingAndGlyphs">Офіційні повідомлення правоохоронних органів</text>
</svg>
</body></html>
